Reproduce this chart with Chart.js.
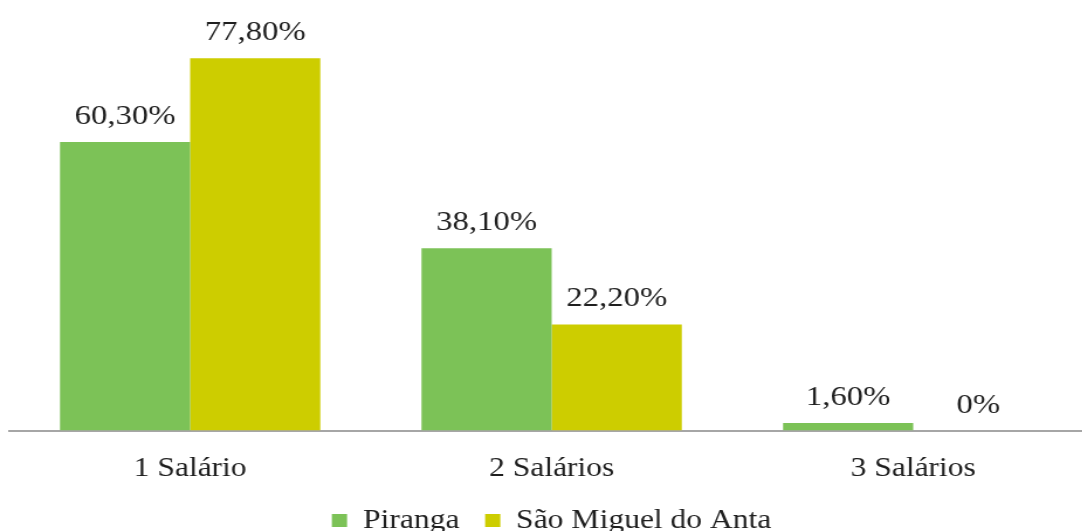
<!DOCTYPE html>
<html>
<head>
<meta charset="utf-8">
<script src="https://cdn.jsdelivr.net/npm/chart.js@4/dist/chart.umd.min.js"></script>
<style>
  html, body { margin:0; padding:0; background:#fff; }
  #wrap { width:1082px; height:531px; overflow:hidden; position:relative; }
  /* o gráfico original está esticado na horizontal */
  #chart { position:absolute; left:0; top:0; transform:scaleX(1.17); transform-origin:0 0; }
</style>
</head>
<body>
<div id="wrap"><canvas id="chart" width="935" height="544"></canvas></div>
<script>
/* ====== dados ====== */
const categorias = ['1 Salário', '2 Salários', '3 Salários'];
const piranga = [60.3, 38.1, 1.6];
const saoMiguel = [77.8, 22.2, 0];
const rotulosPiranga = ['60,30%', '38,10%', '1,60%'];
const rotulosSaoMiguel = ['77,80%', '22,20%', '0%'];

const FONTE = '"Liberation Serif", "DejaVu Serif", serif';

/* rótulos acima das barras */
const rotulosPlugin = {
  id: 'rotulos',
  afterDatasetsDraw(chart) {
    const ctx = chart.ctx;
    const textos = [rotulosPiranga, rotulosSaoMiguel];
    ctx.save();
    ctx.font = '28px ' + FONTE;
    ctx.fillStyle = '#1f1f1f';
    ctx.textAlign = 'center';
    ctx.textBaseline = 'alphabetic';
    chart.data.datasets.forEach((ds, di) => {
      chart.getDatasetMeta(di).data.forEach((bar, i) => {
        ctx.fillText(textos[di][i], bar.x, bar.y - 18);
      });
    });
    ctx.restore();
  }
};

new Chart(document.getElementById('chart').getContext('2d'), {
  type: 'bar',
  data: {
    labels: categorias,
    datasets: [
      { label: 'Piranga', data: piranga, backgroundColor: '#7cc257' },
      { label: 'São Miguel do Anta', data: saoMiguel, backgroundColor: '#cdcd00' }
    ]
  },
  options: {
    responsive: false,
    animation: false,
    devicePixelRatio: 1,
    layout: { padding: { left: 8, right: 0, top: 0, bottom: 0 } },
    datasets: { bar: { categoryPercentage: 0.72, barPercentage: 1.0 } },
    scales: {
      x: {
        grid: { display: false },
        border: { display: true, color: '#a6a6a6', width: 2 },
        ticks: { color: '#1f1f1f', font: { family: FONTE, size: 27 }, padding: 14 },
        afterFit(scale) { scale.height -= 14; } // aproxima a legenda do eixo
      },
      y: { display: false, min: 0, max: 90 }
    },
    plugins: {
      legend: {
        position: 'bottom',
        labels: { color: '#1f1f1f', font: { family: FONTE, size: 27 }, boxWidth: 13, boxHeight: 13, padding: 22 }
      },
      tooltip: { enabled: false }
    }
  },
  plugins: [rotulosPlugin]
});
</script>
</body>
</html>
